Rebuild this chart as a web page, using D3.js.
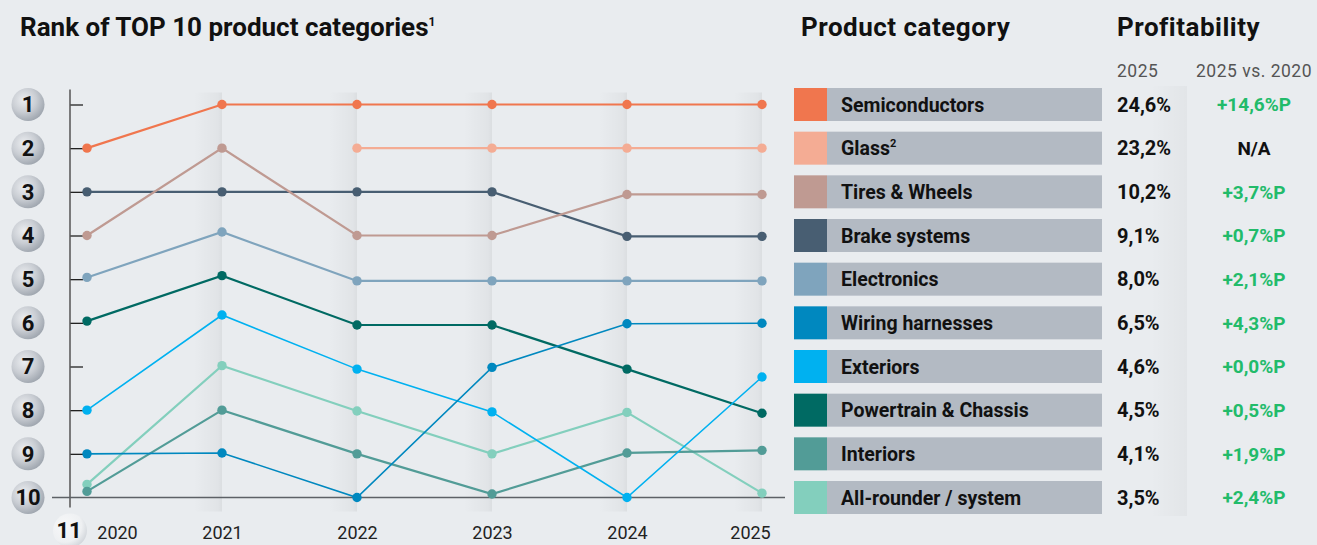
<!DOCTYPE html>
<html>
<head>
<meta charset="utf-8">
<script src="https://cdn.jsdelivr.net/npm/d3@7"></script>
<style>
  html, body { margin: 0; padding: 0; background: #e9ecef; }
  svg { display: block; }
  text { font-family: Roboto, "Noto Sans", sans-serif; }
</style>
</head>
<body>
<svg id="chart" width="1317" height="545"></svg>
<script>
// ---- data -------------------------------------------------------------
const years = [2020, 2021, 2022, 2023, 2024, 2025];

const categories = [
  "Semiconductors", "Glass", "Tires & Wheels", "Brake systems", "Electronics",
  "Wiring harnesses", "Exteriors", "Powertrain & Chassis", "Interiors", "All-rounder / system"
];
const categoryNotes = ["", "2", "", "", "", "", "", "", "", ""];

const colors = [
  "#f0764e", "#f4ac94", "#bf9a92", "#485e72", "#7fa4bd",
  "#0088bf", "#00b1f0", "#006a63", "#529c97", "#83cfbd"
];

// rank per year (null = not in the top list that year)
const rankSemiconductors = [2, 1, 1, 1, 1, 1];
const rankGlass          = [null, null, 2, 2, 2, 2];
const rankTires          = [4, 2, 4, 4, 3.06, 3.06];
const rankBrakes         = [3, 3, 3, 3, 4.02, 4.02];
const rankElectronics    = [4.96, 3.92, 5.04, 5.04, 5.04, 5.04];
const rankWiring         = [9, 8.98, 10, 7.02, 6.02, 6.01];
const rankExteriors      = [8, 5.82, 7.06, 8.04, 10, 7.24];
const rankPowertrain     = [5.96, 4.92, 6.05, 6.05, 7.06, 8.07];
const rankInteriors      = [9.86, 8.0, 9.0, 9.92, 8.98, 8.92];
const rankAllRounder     = [9.7, 6.98, 8.02, 9.0, 8.05, 9.9];

const rankSeries = [
  rankSemiconductors, rankGlass, rankTires, rankBrakes, rankElectronics,
  rankWiring, rankExteriors, rankPowertrain, rankInteriors, rankAllRounder
];

const profit2025   = [24.6, 23.2, 10.2, 9.1, 8.0, 6.5, 4.6, 4.5, 4.1, 3.5];
const profitChange = [14.6, null, 3.7, 0.7, 2.1, 4.3, 0.0, 0.5, 1.9, 2.4];

const rankLabels = [1, 2, 3, 4, 5, 6, 7, 8, 9, 10];
const extraRankLabel = 11;

// ---- setup ------------------------------------------------------------
const svg = d3.select("#chart");
const W = 1317, H = 545;

svg.append("rect").attr("width", W).attr("height", H).attr("fill", "#e9ecef");

const defs = svg.append("defs");

const badgeGrad = defs.append("radialGradient")
  .attr("id", "badge").attr("cx", "38%").attr("cy", "36%").attr("r", "68%");
badgeGrad.append("stop").attr("offset", "0%").attr("stop-color", "#eceef1");
badgeGrad.append("stop").attr("offset", "55%").attr("stop-color", "#c9cdd3");
badgeGrad.append("stop").attr("offset", "100%").attr("stop-color", "#9ea5ae");

const badgeGradLight = defs.append("radialGradient")
  .attr("id", "badgeLight").attr("cx", "35%").attr("cy", "35%").attr("r", "70%");
badgeGradLight.append("stop").attr("offset", "0%").attr("stop-color", "#f7f8f9");
badgeGradLight.append("stop").attr("offset", "70%").attr("stop-color", "#eef0f2");
badgeGradLight.append("stop").attr("offset", "100%").attr("stop-color", "#d3d7dc");

const shade = defs.append("linearGradient").attr("id", "shade")
  .attr("x1", "0%").attr("x2", "100%").attr("y1", "0%").attr("y2", "0%");
shade.append("stop").attr("offset", "0%").attr("stop-color", "#000").attr("stop-opacity", 0);
shade.append("stop").attr("offset", "85%").attr("stop-color", "#000").attr("stop-opacity", 0.035);
shade.append("stop").attr("offset", "100%").attr("stop-color", "#000").attr("stop-opacity", 0.06);

const x = d3.scalePoint().domain(years).range([87, 762]);
const y = d3.scaleLinear().domain([1, 10]).range([104.5, 497.5]);

// ---- title ------------------------------------------------------------
svg.append("text")
  .attr("x", 20).attr("y", 36)
  .attr("font-size", 26).attr("font-weight", 700).attr("fill", "#111")
  .text("Rank of TOP 10 product categories")
  .append("tspan").attr("dy", -10).attr("font-size", 12).text("1");

// ---- soft column shading at each year ---------------------------------
svg.append("g").selectAll("rect")
  .data(years.slice(1))
  .join("rect")
  .attr("x", d => x(d) - 28).attr("width", 28)
  .attr("y", y(1) - 12).attr("height", y(10) - y(1) + 26)
  .attr("fill", "url(#shade)");

// ---- rank badges ------------------------------------------------------
const badges = svg.append("g");
badges.selectAll("circle")
  .data(rankLabels)
  .join("circle")
  .attr("cx", 28).attr("cy", d => y(d)).attr("r", 16.5)
  .attr("fill", "url(#badge)");
badges.selectAll("text")
  .data(rankLabels)
  .join("text")
  .attr("x", 28).attr("y", d => y(d)).attr("dy", "0.36em")
  .attr("text-anchor", "middle")
  .attr("font-size", 22).attr("font-weight", 700).attr("fill", "#111")
  .text(d => d);

const yExtra = y(10) + 33;
svg.append("circle").attr("cx", 70).attr("cy", yExtra).attr("r", 17)
  .attr("fill", "url(#badgeLight)");
svg.append("text").attr("x", 69).attr("y", yExtra).attr("dy", "0.36em")
  .attr("text-anchor", "middle")
  .attr("font-size", 22).attr("font-weight", 700).attr("fill", "#111")
  .text(extraRankLabel);

// ---- axes -------------------------------------------------------------
const yAxis = d3.axisRight(y)
  .tickValues(rankLabels.slice(0, 9))
  .tickSize(13).tickSizeOuter(0).tickFormat("");
const gy = svg.append("g").attr("transform", "translate(70,0)").call(yAxis);
gy.select(".domain").remove();
gy.selectAll(".tick line").attr("stroke", "#222").attr("stroke-width", 1.3);
gy.append("line")
  .attr("x1", 0).attr("x2", 0)
  .attr("y1", y(1) - 15).attr("y2", y(10) + 10)
  .attr("stroke", "#555").attr("stroke-width", 1.5);

const xAxis = d3.axisBottom(x).tickSize(0).tickSizeOuter(0);
const gx = svg.append("g").attr("transform", `translate(0,${y(10)})`).call(xAxis);
gx.select(".domain").remove();
gx.append("line")
  .attr("x1", 52).attr("x2", 785).attr("y1", 0).attr("y2", 0)
  .attr("stroke", "#5d6166").attr("stroke-width", 1.6);
gx.selectAll(".tick text")
  .attr("y", 539 - y(10)).attr("dy", 0)
  .attr("font-family", "'Open Sans', 'Noto Sans', sans-serif")
  .attr("font-size", 18).attr("fill", "#222")
  .attr("dx", (d, i) => i === 0 ? 30 : (i === years.length - 1 ? -12 : 0));

// ---- rank lines -------------------------------------------------------
const series = categories.map((name, i) => ({
  name, color: colors[i],
  points: rankSeries[i].map((r, j) => ({ year: years[j], rank: r })).filter(p => p.rank != null)
}));

const line = d3.line().x(p => x(p.year)).y(p => y(p.rank));

const lines = svg.append("g");
const order = series.slice().reverse();
lines.selectAll("path")
  .data(order)
  .join("path")
  .attr("d", s => line(s.points))
  .attr("fill", "none")
  .attr("stroke", s => s.color)
  .attr("stroke-width", s => (s.name === "Exteriors" || s.name === "Wiring harnesses") ? 1.6 : 2.2);

lines.selectAll("g.dots")
  .data(order)
  .join("g").attr("class", "dots")
  .selectAll("circle")
  .data(s => s.points.map(p => ({ ...p, color: s.color })))
  .join("circle")
  .attr("cx", p => x(p.year)).attr("cy", p => y(p.rank)).attr("r", 4.7)
  .attr("fill", p => p.color);

// ---- category legend --------------------------------------------------
svg.append("text")
  .attr("x", 801).attr("y", 36)
  .attr("font-size", 26).attr("font-weight", 700).attr("fill", "#111")
  .attr("letter-spacing", 0.5)
  .text("Product category");

const rowH = 33;
const legend = svg.append("g");
const rows = legend.selectAll("g")
  .data(categories)
  .join("g")
  .attr("transform", (d, i) => `translate(0,${y(i + 1) - rowH / 2})`);
rows.append("rect").attr("x", 827).attr("width", 275).attr("height", rowH).attr("fill", "#b3bac3");
rows.append("rect").attr("x", 794).attr("width", 33).attr("height", rowH).attr("fill", (d, i) => colors[i]);
const lbl = rows.append("text")
  .attr("x", 841).attr("y", rowH / 2).attr("dy", "0.36em")
  .attr("font-size", 19.5).attr("font-weight", 700).attr("fill", "#111")
  .text(d => d);
lbl.filter((d, i) => categoryNotes[i] !== "")
  .append("tspan").attr("dy", -8).attr("font-size", 11)
  .text((d) => categoryNotes[categories.indexOf(d)]);

// ---- profitability ----------------------------------------------------
svg.append("text")
  .attr("x", 1117).attr("y", 36)
  .attr("font-size", 26).attr("font-weight", 700).attr("fill", "#111")
  .attr("letter-spacing", 0.5)
  .text("Profitability");

// faint divider between the two profitability columns
const divGrad = defs.append("linearGradient").attr("id", "divider")
  .attr("x1", "0%").attr("x2", "100%");
divGrad.append("stop").attr("offset", "0%").attr("stop-color", "#000").attr("stop-opacity", 0);
divGrad.append("stop").attr("offset", "100%").attr("stop-color", "#000").attr("stop-opacity", 0.03);
svg.append("rect").attr("x", 1150).attr("width", 37)
  .attr("y", 86).attr("height", 430).attr("fill", "url(#divider)");

svg.append("text")
  .attr("x", 1117).attr("y", 77)
  .attr("font-size", 17.5).attr("letter-spacing", 0.5).attr("fill", "#555")
  .text("2025");
svg.append("text")
  .attr("x", 1254).attr("y", 77).attr("text-anchor", "middle")
  .attr("font-size", 17.5).attr("letter-spacing", 0.5).attr("fill", "#555")
  .text("2025 vs. 2020");

const fmt = v => d3.format(".1f")(v).replace(".", ",");

svg.append("g").selectAll("text")
  .data(profit2025)
  .join("text")
  .attr("x", 1117).attr("y", (d, i) => y(i + 1)).attr("dy", "0.36em")
  .attr("font-size", 20).attr("font-weight", 700).attr("fill", "#111")
  .text(d => fmt(d) + "%");

svg.append("g").selectAll("text")
  .data(profitChange)
  .join("text")
  .attr("x", 1254).attr("y", (d, i) => y(i + 1)).attr("dy", "0.36em")
  .attr("text-anchor", "middle")
  .attr("font-size", 19).attr("font-weight", 700)
  .attr("fill", d => d == null ? "#111" : "#22bb6a")
  .text(d => d == null ? "N/A" : "+" + fmt(d) + "%P");
</script>
</body>
</html>
